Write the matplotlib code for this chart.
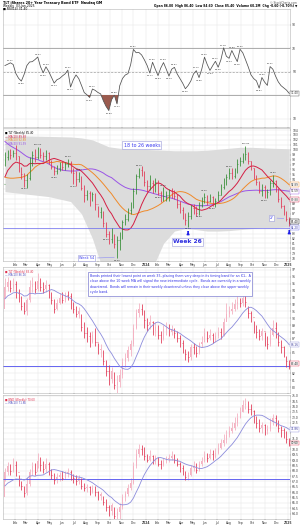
import matplotlib
matplotlib.use('Agg')
import matplotlib.pyplot as plt
import matplotlib.dates as mdates
import numpy as np
import pandas as pd

# weekly bars, one per Friday
weeks = pd.date_range('2023-01-06', periods=105, freq='W-FRI')

# top panel oscillator
rsi = [55.1, 56.2, 57.41, 56.0, 48.3, 44.2, 41.86, 47.5, 55.0, 58.1,
       58.4, 60.2, 62.37, 54.1, 48.92, 54.03, 50.1, 45.2, 40.14, 43.0,
       44.1, 46.2, 48.0, 51.21, 36.77, 43.0, 47.11, 44.0, 38.2, 32.1,
       30.2, 27.93, 35.12, 34.0, 32.2, 31.0, 25.1, 20.3, 16.83, 26.0,
       29.86, 22.47, 38.0, 44.1, 47.0, 48.2, 56.0, 68.81, 66.0, 66.2,
       64.1, 60.0, 55.2, 48.77, 57.92, 52.0, 46.54, 53.0, 57.63, 52.1,
       46.13, 52.0, 53.57, 48.0, 44.1, 40.2, 35.36, 38.1, 42.0, 48.0,
       50.72, 44.86, 52.0, 62.22, 56.0, 50.94, 55.0, 58.71, 53.66, 60.0,
       70.18, 63.0, 61.24, 67.89, 63.0, 58.45, 68.92, 66.0, 60.1, 54.0,
       47.2, 44.0, 42.1, 35.87, 44.92, 41.0, 38.2, 54.21, 52.0, 46.1,
       41.2, 38.0, 36.1, 34.2, 31.40]
rsi_labels = [2, 6, 12, 14, 15, 18, 23, 24, 26, 31, 32, 38, 40, 41, 47, 53, 54,
              56, 58, 60, 62, 66, 70, 71, 73, 75, 77, 78, 80, 82, 83, 85, 86,
              93, 94, 97]

# main price panel (weekly, adjusted)
tlt_pre = [121.8, 118.1, 115.3, 112.5, 111.6, 108.8, 110.7, 110.7, 109.7, 107.9,
           103.2, 104.2, 105.1, 108.8, 106.0, 106.0, 108.8, 111.6, 107.9, 107.0,
           104.2, 102.3, 100.4, 99.5, 97.7, 94.9, 93.9, 90.2, 89.3, 86.5,
           89.3, 86.5, 92.1, 93.0, 94.9, 97.7, 96.7, 98.6, 93.9, 93.0]
tlt_close = [98.6, 99.3, 99.0, 99.4, 98.8, 96.0, 95.0, 93.8, 94.2, 97.8,
             99.0, 98.6, 99.8, 99.0, 98.8, 99.4, 97.8, 96.6, 95.6, 96.2,
             97.0, 96.5, 97.2, 97.4, 96.0, 95.2, 94.0, 94.8, 92.2, 90.8,
             91.2, 90.2, 91.0, 89.0, 87.4, 87.8, 85.2, 83.0, 81.8, 83.4,
             80.8, 81.6, 82.4, 85.4, 86.0, 87.8, 88.4, 91.6, 94.6, 95.8,
             95.2, 93.4, 92.6, 93.2, 91.8, 93.4, 91.2, 90.0, 90.6, 90.8,
             91.6, 91.0, 90.6, 89.0, 87.8, 86.8, 85.8, 86.6, 88.2, 87.6,
             87.2, 88.8, 89.4, 90.4, 89.6, 90.4, 89.2, 89.6, 90.8, 92.4,
             93.4, 94.4, 95.2, 94.6, 95.6, 97.2, 97.8, 98.6, 99.2, 97.8,
             96.4, 94.6, 93.4, 91.6, 92.4, 90.8, 91.4, 93.2, 93.6, 92.2,
             90.0, 88.6, 87.6, 86.0, 85.4]
tlt_high = [99.5, 100.0, 100.2, 100.0, 101.0, 98.8, 96.5, 95.2, 95.0, 98.5,
            99.8, 100.2, 100.6, 100.4, 99.6, 100.0, 99.6, 98.0, 96.8, 97.0,
            97.5, 97.8, 97.6, 98.2, 97.8, 96.4, 95.6, 95.5, 94.6, 92.8,
            91.8, 91.6, 91.5, 91.2, 88.6, 88.4, 87.6, 85.4, 83.6, 84.2,
            83.0, 82.6, 83.4, 85.8, 87.0, 88.2, 89.4, 92.2, 95.0, 96.4,
            96.8, 95.6, 93.8, 94.8, 93.8, 94.2, 93.8, 91.6, 92.4, 91.6,
            92.0, 92.2, 91.8, 91.0, 89.6, 88.4, 87.2, 87.4, 88.8, 89.0,
            88.6, 89.4, 90.4, 91.2, 90.8, 91.0, 90.6, 90.2, 91.6, 93.0,
            94.2, 95.0, 96.2, 96.4, 96.4, 98.2, 98.6, 99.4, 100.8, 99.6,
            97.8, 96.2, 94.8, 93.6, 93.0, 92.8, 92.0, 93.8, 94.9, 93.8,
            92.2, 90.4, 88.8, 87.6, 86.4]
tlt_low = [96.8, 98.0, 98.2, 98.5, 98.0, 95.5, 94.0, 92.5, 92.2, 93.8,
           96.8, 97.5, 98.2, 98.3, 97.8, 98.0, 97.2, 96.0, 94.8, 95.0,
           95.6, 95.9, 95.8, 96.5, 95.2, 93.0, 92.6, 93.4, 91.8, 89.4,
           89.8, 88.6, 89.6, 87.8, 86.4, 86.2, 84.4, 82.2, 80.8, 81.0,
           80.0, 78.0, 79.6, 81.8, 84.8, 85.6, 87.0, 88.2, 91.0, 94.2,
           94.6, 92.6, 91.4, 91.8, 91.2, 91.4, 90.8, 89.4, 89.6, 89.6,
           89.6, 90.2, 90.0, 88.2, 87.2, 86.0, 84.8, 84.4, 86.0, 87.0,
           86.6, 86.8, 88.4, 89.2, 88.8, 89.4, 88.6, 88.4, 89.6, 90.8,
           92.0, 92.8, 94.0, 94.0, 94.2, 95.2, 96.8, 97.4, 98.0, 97.2,
           95.8, 94.0, 92.8, 91.2, 90.6, 90.2, 90.2, 90.8, 92.4, 91.4,
           89.4, 88.2, 86.8, 85.6, 84.6]
tlt_peaks = [12, 23, 27, 49, 58, 73, 82, 88, 98]
tlt_troughs = [7, 18, 25, 37, 41, 56, 67, 71, 76, 95]

# cycle band
band_dates = ['2023-01-06', '2023-03-03', '2023-04-28', '2023-06-23', '2023-07-21',
              '2023-08-18', '2023-09-08', '2023-09-29', '2023-10-27', '2023-11-24',
              '2023-12-22', '2024-01-19', '2024-02-16', '2024-03-15', '2024-04-12',
              '2024-05-10', '2024-06-07', '2024-07-05', '2024-08-02', '2024-08-30',
              '2024-09-27', '2024-10-25', '2024-11-22', '2025-01-03']
band_upper = [102.8, 102.8, 102.7, 102.6, 102.4, 102.0, 101.3, 100.6, 100.3, 100.2,
              100.1, 100.0, 99.9, 99.8, 99.8, 99.8, 99.9, 100.1, 100.3, 100.5,
              100.5, 100.4, 100.3, 100.2]
band_lower = [91.5, 91.0, 90.5, 89.5, 87.0, 82.0, 77.0, 74.0, 74.0, 76.5,
              75.0, 76.0, 81.0, 83.5, 84.0, 83.8, 83.5, 83.5, 83.6, 83.8,
              84.0, 84.2, 84.2, 84.3]

# third panel
p3_pre = [91.0, 92.4, 92.6, 93.0, 93.8, 93.2, 94.0, 92.2, 91.4]
p3_close = [94.6, 95.2, 94.4, 95.0, 93.6, 93.0, 91.8, 91.0, 92.6, 94.6,
            95.0, 94.2, 95.4, 94.6, 94.2, 94.8, 93.6, 92.6, 91.4, 92.2,
            93.0, 92.6, 93.4, 93.2, 92.0, 91.4, 90.6, 91.0, 88.8, 87.8,
            87.4, 86.6, 87.6, 86.6, 85.4, 85.6, 83.8, 82.4, 81.2, 82.4,
            80.4, 80.8, 81.8, 83.6, 84.2, 85.4, 86.2, 88.6, 90.8, 91.4,
            91.0, 89.8, 89.0, 89.4, 88.2, 88.8, 87.6, 87.0, 88.4, 88.6,
            88.0, 88.4, 87.8, 87.2, 86.4, 85.8, 84.8, 84.4, 85.8, 85.4,
            85.0, 86.2, 86.6, 87.8, 87.2, 87.6, 86.8, 87.4, 88.0, 87.6,
            89.4, 90.6, 91.0, 91.4, 92.0, 92.4, 92.2, 93.0, 92.4, 90.8,
            90.2, 88.6, 88.0, 87.4, 88.2, 86.6, 86.2, 87.6, 88.6, 88.0,
            86.6, 85.8, 85.0, 83.8, 83.4]
p3_high = [95.8, 96.0, 95.6, 95.8, 95.4, 94.2, 93.2, 92.4, 93.0, 95.6,
           96.0, 95.4, 96.6, 95.8, 95.2, 95.6, 95.0, 93.8, 92.8, 92.8,
           93.6, 93.8, 93.8, 94.0, 93.6, 92.4, 91.8, 91.6, 90.6, 89.4,
           88.8, 88.0, 88.2, 88.6, 86.4, 86.2, 85.4, 84.0, 83.2, 83.0,
           82.2, 81.8, 82.6, 84.2, 85.0, 86.0, 86.9, 89.2, 91.4, 92.2,
           92.0, 91.2, 90.0, 90.4, 89.6, 89.4, 89.0, 88.2, 89.0, 89.4,
           89.2, 89.0, 88.6, 88.2, 87.6, 86.8, 85.6, 85.2, 86.2, 86.4,
           86.0, 86.6, 87.4, 88.6, 88.2, 88.4, 87.8, 88.0, 88.8, 88.6,
           90.0, 92.2, 91.8, 92.4, 92.8, 93.2, 93.0, 94.1, 93.6, 91.8,
           91.0, 89.6, 89.0, 88.4, 88.6, 88.0, 87.4, 88.4, 89.8, 89.4,
           88.0, 86.9, 86.0, 84.6, 84.0]
p3_low = [93.0, 94.0, 93.8, 94.0, 93.0, 92.4, 91.2, 90.6, 90.4, 92.4,
          93.8, 93.6, 94.0, 94.0, 93.6, 93.8, 93.0, 92.0, 90.8, 91.2,
          92.0, 92.2, 92.4, 92.6, 91.4, 90.8, 90.2, 90.0, 88.2, 87.2,
          86.6, 85.8, 86.4, 86.0, 84.8, 84.4, 83.2, 81.6, 80.4, 80.6,
          79.8, 79.0, 80.0, 81.4, 83.0, 83.8, 84.6, 86.0, 88.4, 90.2,
          90.4, 88.6, 88.2, 88.4, 87.6, 87.4, 87.0, 86.4, 86.8, 87.6,
          87.4, 87.6, 87.2, 86.6, 85.8, 85.0, 84.0, 83.6, 84.0, 84.8,
          84.4, 84.8, 85.8, 86.6, 86.6, 86.8, 86.4, 86.6, 87.2, 87.0,
          87.4, 89.6, 90.2, 90.6, 91.0, 91.4, 91.6, 91.8, 91.6, 90.0,
          89.4, 87.8, 87.2, 86.8, 86.8, 86.0, 85.6, 86.0, 87.4, 87.2,
          86.0, 85.0, 84.4, 83.0, 82.6]

# bottom panel
p4_pre = [65.8, 66.6, 66.9, 67.0, 67.2, 66.5, 66.8, 65.6, 65.5]
p4_close = [67.9, 68.4, 68.0, 68.5, 67.9, 67.0, 66.6, 65.9, 66.8, 67.9,
            68.4, 67.9, 68.9, 68.5, 68.2, 68.6, 68.0, 67.6, 67.1, 67.4,
            67.6, 67.3, 67.8, 67.9, 67.4, 67.3, 67.0, 67.3, 66.6, 66.4,
            66.5, 66.0, 66.4, 66.0, 65.6, 65.8, 65.1, 64.6, 64.2, 64.8,
            63.8, 64.1, 64.6, 65.5, 65.8, 66.4, 66.9, 68.4, 69.6, 70.0,
            69.8, 69.4, 69.0, 69.4, 68.8, 69.2, 68.6, 68.5, 68.9, 69.1,
            69.2, 69.4, 69.0, 68.6, 68.3, 67.9, 67.4, 67.6, 68.3, 68.4,
            68.1, 68.6, 68.9, 69.4, 69.2, 69.6, 69.3, 69.7, 70.1, 70.6,
            70.9, 71.3, 71.7, 72.0, 72.5, 72.9, 73.5, 74.1, 74.2, 73.8,
            73.6, 72.9, 72.5, 72.0, 72.3, 71.7, 71.9, 72.6, 72.9, 72.5,
            72.0, 71.8, 71.6, 71.0, 70.6]
p4_high = [68.3, 68.8, 68.6, 69.2, 68.9, 67.6, 67.0, 66.6, 67.4, 68.2,
           68.8, 68.7, 69.7, 69.3, 68.9, 69.2, 68.8, 68.2, 67.8, 67.8,
           67.9, 68.0, 68.0, 68.3, 68.1, 67.7, 67.6, 67.6, 67.3, 66.9,
           66.8, 66.6, 66.7, 66.6, 66.1, 66.0, 65.6, 65.4, 64.8, 65.0,
           64.6, 64.5, 65.0, 65.8, 66.1, 66.8, 67.3, 68.8, 70.0, 70.5,
           70.4, 70.2, 69.6, 69.9, 69.5, 69.5, 69.3, 69.0, 69.2, 69.4,
           69.6, 69.8, 69.6, 69.2, 68.8, 68.5, 68.0, 67.9, 68.5, 68.9,
           68.7, 68.9, 69.3, 69.8, 69.7, 70.0, 69.9, 70.1, 70.6, 71.0,
           71.4, 71.8, 72.2, 72.6, 73.0, 73.4, 74.0, 74.6, 74.8, 74.5,
           74.2, 73.7, 73.1, 72.8, 72.6, 72.4, 72.3, 72.9, 73.3, 73.2,
           72.7, 72.2, 72.0, 71.7, 71.1]
p4_low = [67.0, 67.6, 67.6, 67.9, 67.5, 66.6, 66.2, 65.5, 65.7, 66.6,
          67.6, 67.6, 68.3, 68.0, 67.8, 67.9, 67.6, 67.2, 66.8, 66.9,
          67.0, 67.1, 67.2, 67.4, 67.1, 66.9, 66.7, 66.8, 66.3, 66.1,
          66.0, 65.7, 65.9, 65.6, 65.3, 65.3, 64.8, 64.2, 63.8, 63.9,
          63.3, 63.0, 63.4, 64.4, 65.2, 65.6, 66.2, 66.8, 68.3, 69.3,
          69.5, 69.0, 68.8, 68.9, 68.6, 68.6, 68.4, 68.2, 68.4, 68.7,
          68.8, 69.0, 68.7, 68.4, 67.9, 67.6, 67.1, 67.1, 67.5, 68.0,
          67.8, 68.0, 68.4, 68.8, 68.8, 69.1, 69.0, 69.2, 69.6, 70.0,
          70.3, 70.6, 71.2, 71.5, 71.8, 72.2, 72.9, 73.5, 73.8, 73.4,
          73.2, 72.5, 72.0, 71.6, 71.5, 71.3, 71.4, 71.7, 72.3, 72.2,
          71.6, 71.2, 71.1, 70.6, 70.3]

months = pd.date_range('2023-02-01', '2025-01-01', freq='MS')
month_labels = [str(m.year) if m.month == 1 else m.strftime('%b') for m in months]

GREEN = '#2f8a2f'
RED = '#e0304e'
PINK = '#f4b2c2'
BLUE = '#6464f0'
MA_BLUE = '#8c8cdc'

xd = mdates.date2num(weeks)
x_lo = mdates.date2num(pd.Timestamp('2023-01-01'))
x_hi = mdates.date2num(pd.Timestamp('2025-01-05'))


def with_ma(pre, close, n):
    s = pd.Series(list(pre) + list(close))
    return s.rolling(n).mean().iloc[len(pre):].to_numpy()


def style_axis(ax, ylim, yticks, fmt='{:.0f}', show_months=False):
    ax.set_xlim(x_lo, x_hi)
    ax.set_ylim(*ylim)
    ax.yaxis.tick_right()
    ax.set_yticks(yticks)
    ax.set_yticklabels([fmt.format(t) for t in yticks])
    ax.set_xticks(mdates.date2num(months))
    if show_months:
        ax.set_xticklabels(month_labels)
        for lbl, m in zip(ax.get_xticklabels(), months):
            if m.month == 1:
                lbl.set_fontweight('bold')
    else:
        ax.set_xticklabels([])
    ax.tick_params(axis='both', labelsize=2.2, length=1.0, width=0.3,
                   pad=0.6, colors='#333333')
    ax.grid(True, color='#e6e6e6', lw=0.35)
    ax.set_axisbelow(True)
    for s in ax.spines.values():
        s.set_color('#b4b4b4')
        s.set_linewidth(0.4)


def value_boxes(ax, items, gap, fmt='{:.0f}'):
    # items: (value, edge colour, text colour); stacked so the boxes do not collide
    items = sorted(items, key=lambda t: t[0])
    ys = [items[0][0]]
    for v, _, _ in items[1:]:
        ys.append(max(v, ys[-1] + gap))
    shift = (ys[-1] - items[-1][0]) / 2 if len(items) > 1 else 0
    ys = [y - shift for y in ys]
    for (v, ec, tc), y in zip(items, ys):
        ax.annotate(f'{v:.2f}', xy=(1.0, y), xycoords=('axes fraction', 'data'),
                    xytext=(0.6, 0), textcoords='offset points', va='center',
                    ha='left', fontsize=2.0, color=tc, annotation_clip=False,
                    bbox=dict(boxstyle='square,pad=0.15', fc='white', ec=ec, lw=0.3))
    # blank the tick labels hidden behind the boxes
    y0, y1 = ax.get_ylim()
    tol = 4.2 * (y1 - y0) / ax.get_window_extent().height
    ticks = ax.get_yticks()
    ax.set_yticks(ticks)
    ax.set_yticklabels(['' if any(abs(t - y) < tol for y in ys) else fmt.format(t)
                        for t in ticks])


def ohlc(ax, o, h, l, c):
    cols = [GREEN if cc >= oo else RED for oo, cc in zip(o, c)]
    ax.vlines(xd, l, h, colors=cols, lw=0.55, zorder=3)
    ax.hlines(o, xd - 1.3, xd, colors=cols, lw=0.45, zorder=3)
    ax.hlines(c, xd, xd + 1.3, colors=cols, lw=0.45, zorder=3)


def candles(ax, o, h, l, c):
    o = np.asarray(o)
    c = np.asarray(c)
    up = c > o
    ax.vlines(xd[up], np.asarray(l)[up], np.asarray(h)[up], colors=PINK, lw=0.6, zorder=2)
    ax.bar(xd[up], (c - o)[up], bottom=o[up], width=2.6, color=PINK, lw=0, zorder=2)
    dn = ~up
    ax.vlines(xd[dn], np.asarray(l)[dn], np.asarray(h)[dn], colors=RED, lw=0.55, zorder=3)
    ax.hlines(o[dn], xd[dn] - 1.3, xd[dn], colors=RED, lw=0.45, zorder=3)
    ax.hlines(c[dn], xd[dn], xd[dn] + 1.3, colors=RED, lw=0.45, zorder=3)


fig = plt.figure(figsize=(3.0, 5.29), dpi=100)
L, W = 0.01, 0.9567
ax1 = fig.add_axes([L, 0.7599, W, 0.2231])
ax2 = fig.add_axes([L, 0.5066, W, 0.2514])
ax3 = fig.add_axes([L, 0.2571, W, 0.2382])
ax4 = fig.add_axes([L, 0.0189, W, 0.2344])

# header
fig.text(0.01, 0.9985, 'TLT iShares 20+ Year Treasury Bond ETF  Nasdaq GM', fontsize=2.4,
         fontweight='bold', va='top')
fig.text(0.01, 0.9925, 'Weekly  03-Jan-2025', fontsize=2.2, va='top')
fig.text(0.01, 0.9870, f'\u25a0 RSI(14) {rsi[-1]:.2f}', fontsize=2.2, va='top')
fig.text(0.99, 0.9985, '\u00a9 StockCharts.com', fontsize=2.0, va='top', ha='right', color='#555555')
fig.text(0.99, 0.9925, f'Open {tlt_close[-2]:.2f}  High {tlt_high[-1]:.2f}  Low {tlt_low[-1]:.2f}  '
         f'Close {tlt_close[-1]:.2f}  Volume 60.2M  Chg -0.60 (-0.70%) \u25bc',
         fontsize=2.2, va='top', ha='right', fontweight='bold')

# panel 1: oscillator
rsi_arr = np.asarray(rsi)
style_axis(ax1, (2.8, 103.2), [10, 30, 50, 70, 90])
ax1.axhline(70, color='#a0a0a0', lw=0.6)
ax1.axhline(30, color='#a0a0a0', lw=0.6)
ax1.axhline(50, color='#a0a0a0', lw=0.5, ls=(0, (3, 2)))
ax1.fill_between(xd, rsi_arr, 30, where=rsi_arr < 30, interpolate=True,
                 color='#9a5a4e', lw=0, zorder=2)
ax1.plot(xd, rsi_arr, color='#505050', lw=0.55, zorder=3)
for i in rsi_labels:
    peak = rsi[i] >= rsi[i - 1] and rsi[i] >= rsi[i + 1]
    ax1.annotate(f'{rsi[i]:.2f}', (xd[i], rsi[i]), xytext=(0, 1.6 if peak else -1.6),
                 textcoords='offset points', ha='center',
                 va='bottom' if peak else 'top', fontsize=1.7, color='#333333')
value_boxes(ax1, [(rsi[-1], '#505050', '#333333')], 0)

# panel 2: weekly price with cycle band and averages
tlt_open = [tlt_pre[-1]] + tlt_close[:-1]
ma10 = with_ma(tlt_pre, tlt_close, 10)
ma20 = with_ma(tlt_pre, tlt_close, 20)
ma40 = with_ma(tlt_pre, tlt_close, 40)
style_axis(ax2, (77.43, 104.41), list(range(78, 105)), show_months=True)
ax2.fill_between(mdates.date2num(pd.to_datetime(band_dates)), band_lower, band_upper,
                 color='#dcdcdc', lw=0, zorder=1)
ax2.plot(xd, ma40, color='#9a55e6', lw=0.7, zorder=2)
ax2.plot(xd, ma20, color='#f08a2a', lw=0.7, zorder=2)
ax2.plot(xd, ma10, color='#d41f44', lw=0.7, zorder=2)
ohlc(ax2, tlt_open, tlt_high, tlt_low, tlt_close)
low26 = min(tlt_low[60:75])
ax2.axhline(low26 - 0.2, color=BLUE, lw=0.6, alpha=0.8, zorder=2)
for i in tlt_peaks:
    ax2.annotate(f'{tlt_high[i]:.2f}', (xd[i], tlt_high[i]), xytext=(0, 1.2),
                 textcoords='offset points', ha='center', va='bottom', fontsize=1.7,
                 color='#333333', zorder=5)
for i in tlt_troughs:
    ax2.annotate(f'{tlt_low[i]:.2f}', (xd[i], tlt_low[i]), xytext=(0, -1.2),
                 textcoords='offset points', ha='center', va='top', fontsize=1.7,
                 color='#333333', zorder=5)

legend2 = [(f'\u25a0 TLT (Weekly) {tlt_close[-1]:.2f}', 'black'),
           (f'\u2014 MA(10) {ma10[-1]:.2f}', '#d41f44'),
           (f'\u2014 MA(20) {ma20[-1]:.2f}', '#f08a2a'),
           (f'\u2014 MA(40) {ma40[-1]:.2f}', '#9a55e6')]
for k, (txt, col) in enumerate(legend2):
    ax2.text(0.008, 0.975 - k * 0.026, txt, transform=ax2.transAxes, fontsize=1.9,
             color=col, va='top', zorder=6)

box_kw = dict(boxstyle='square,pad=0.25', fc='white', ec='#9a9ad8', lw=0.4)
ax2.text(0.484, 0.872, '18 to 26 weeks', transform=ax2.transAxes, fontsize=3.4,
         color='#3c3cf0', ha='center', va='center', bbox=box_kw, zorder=6)
ax2.text(0.643, 0.143, 'Week 26', transform=ax2.transAxes, fontsize=4.3,
         color='#2e2ee0', fontweight='bold', ha='center', va='center', bbox=box_kw, zorder=6)
ax2.annotate('Week 54', xy=(xd[41], tlt_low[41] + 0.2), xytext=(0.29, 0.02),
             textcoords='axes fraction', fontsize=2.5, color='#3c3cf0', ha='center',
             va='center', bbox=box_kw, zorder=6,
             arrowprops=dict(arrowstyle='-', color='#9a9af0', lw=0.5))
ax2.annotate('27', xy=(xd[103], tlt_close[103]), xytext=(0.935, 0.325),
             textcoords='axes fraction', fontsize=2.2, color='#3c3cf0', ha='center',
             va='center', bbox=box_kw, zorder=6,
             arrowprops=dict(arrowstyle='-', color='#9a9af0', lw=0.5))
for i in (67, 104):
    ax2.annotate('', xy=(xd[i], tlt_low[i] - 0.4), xytext=(xd[i], tlt_low[i] - 1.6),
                 arrowprops=dict(arrowstyle='-|>', color='#2020e8', lw=0.9,
                                 mutation_scale=3.5), zorder=6)
value_boxes(ax2, [(ma20[-1], '#f08a2a', '#333333'),
                  (ma40[-1], '#9a55e6', '#333333'),
                  (ma10[-1], '#d41f44', '#333333'),
                  (tlt_close[-1], 'black', 'black'),
                  (low26 - 0.2, BLUE, '#3333aa')], 1.15)

# panel 3
p3_open = [p3_pre[-1]] + p3_close[:-1]
p3_ma = with_ma(p3_pre, p3_close, 10)
style_axis(ax3, (79.17, 97.43), list(range(80, 98)))
candles(ax3, p3_open, p3_high, p3_low, p3_close)
ax3.plot(xd, p3_ma, color=MA_BLUE, lw=0.6, zorder=4)
ax3.axhline(83.1, color=BLUE, lw=0.7, zorder=2)
ax3.text(0.008, 0.975, f'\u25a0 TLT (Weekly) {p3_close[-1]:.2f}', transform=ax3.transAxes,
         fontsize=1.9, color=RED, va='top')
ax3.text(0.008, 0.950, f'\u2014 MA(10) {p3_ma[-1]:.2f}', transform=ax3.transAxes,
         fontsize=1.9, color='#5050c0', va='top')
note = ('Bonds printed their lowest point on week 35, placing them very deep in its timing band for an ICL.  A\n'
        'close above the 10 week MA will signal the new intermediate cycle.  Bonds are currently in a weekly\n'
        'downtrend.  Bonds will remain in their weekly downtrend unless they close above the upper weekly\n'
        'cycle band.')
ax3.text(0.303, 0.944, note, transform=ax3.transAxes, fontsize=2.35, color='#3434e6',
         va='top', ha='left', linespacing=1.45, zorder=6,
         bbox=dict(boxstyle='square,pad=0.5', fc='white', ec='#7e7ed0', lw=0.5))
value_boxes(ax3, [(p3_ma[-1], MA_BLUE, '#333399'),
                  (p3_close[-1], RED, 'black')], 0.75)

# panel 4
p4_open = [p4_pre[-1]] + p4_close[:-1]
p4_ma = with_ma(p4_pre, p4_close, 10)
style_axis(ax4, (63.49, 75.08), list(np.arange(64.0, 75.01, 0.5)), fmt='{:.1f}',
           show_months=True)
candles(ax4, p4_open, p4_high, p4_low, p4_close)
ax4.plot(xd, p4_ma, color=MA_BLUE, lw=0.6, zorder=4)
ax4.axhline(67.2, color=BLUE, lw=0.7, zorder=2)
ax4.text(0.008, 0.975, f'\u25a0 BND (Weekly) {p4_close[-1]:.2f}', transform=ax4.transAxes,
         fontsize=1.9, color=RED, va='top')
ax4.text(0.008, 0.950, f'\u2014 MA(10) {p4_ma[-1]:.2f}', transform=ax4.transAxes,
         fontsize=1.9, color='#5050c0', va='top')
value_boxes(ax4, [(p4_ma[-1], MA_BLUE, '#333399'),
                  (p4_close[-1], RED, 'black')], 0.5, fmt='{:.1f}')

fig.savefig('out.png', dpi=100, facecolor='white')
